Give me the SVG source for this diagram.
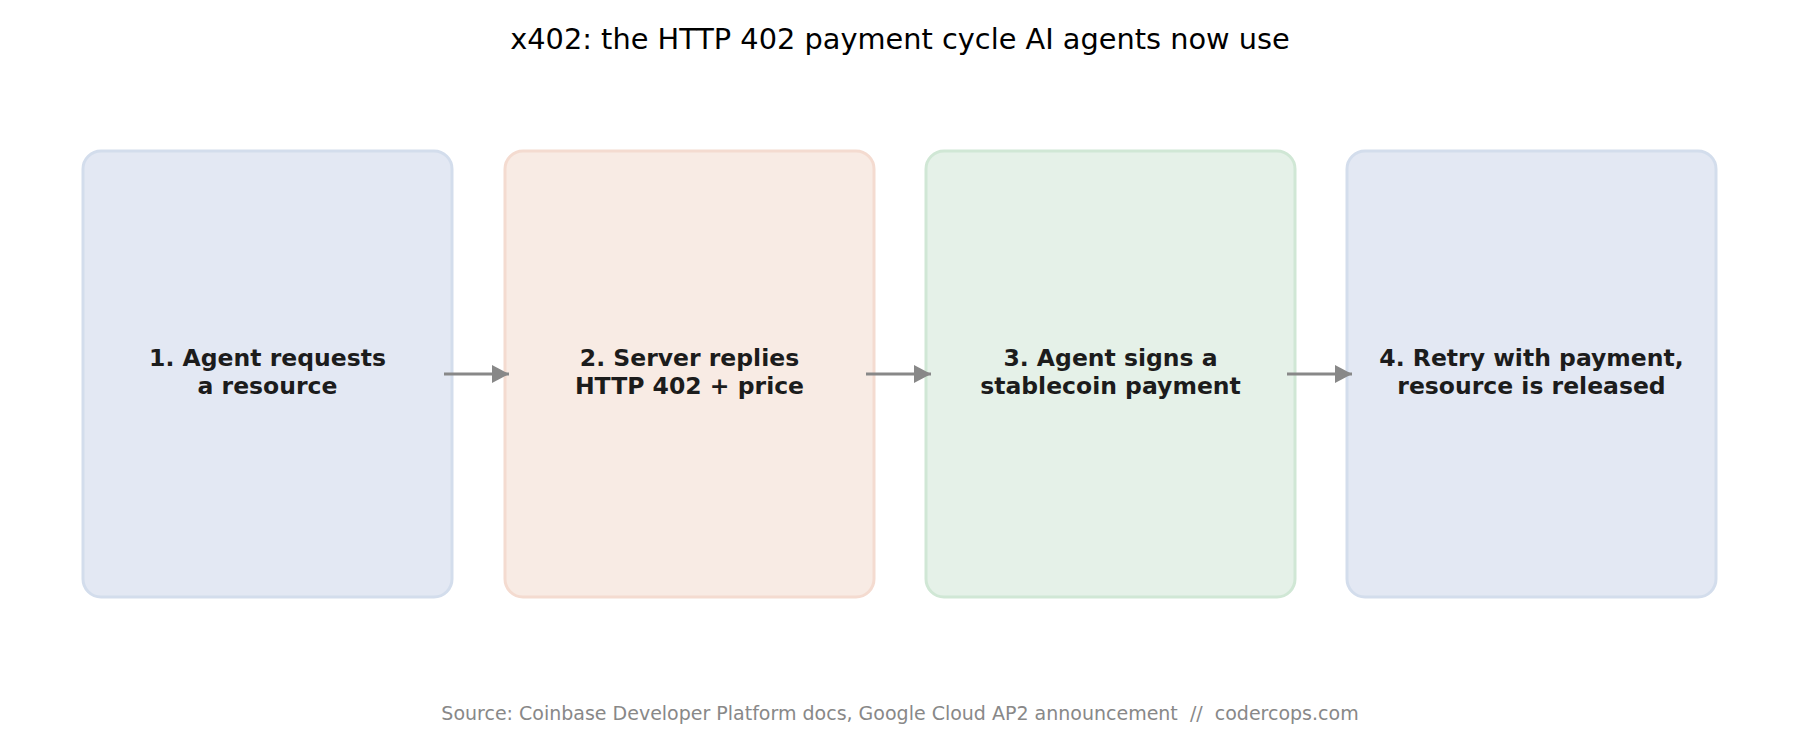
<svg xmlns="http://www.w3.org/2000/svg" width="1800" height="750" viewBox="0 0 1800 750">
<style>
.box{stroke-width:3}
.b1{fill:#e3e8f3;stroke:#d3ddec}
.b2{fill:#f8ebe4;stroke:#f4dbd0}
.b3{fill:#e5f1e8;stroke:#d0e7d5}
.lbl{font-family:"DejaVu Sans",sans-serif;font-weight:bold;font-size:23.5px;fill:#1c1c1c;text-anchor:middle}
.title{font-family:"DejaVu Sans",sans-serif;font-size:28.8px;fill:#000;text-anchor:middle}
.foot{font-family:"DejaVu Sans",sans-serif;font-size:19px;fill:#888;text-anchor:middle}
.conn{stroke:#888;stroke-width:3;fill:none}
</style>
<defs>
<marker id="ah" viewBox="0 0 17 18" refX="17" refY="9" markerWidth="17" markerHeight="18" markerUnits="userSpaceOnUse" orient="auto">
<path d="M0,0 L17,9 L0,18 Z" fill="#888"/>
</marker>
</defs>
<rect width="1800" height="750" fill="#fff"/>
<text class="title" x="900" y="49">x402: the HTTP 402 payment cycle AI agents now use</text>
<g id="node1">
<rect class="box b1" x="83" y="151" width="369" height="446" rx="18"/>
<text class="lbl" x="267.5" y="366">1. Agent requests</text>
<text class="lbl" x="267.5" y="394">a resource</text>
</g>
<g id="node2">
<rect class="box b2" x="505" y="151" width="369" height="446" rx="18"/>
<text class="lbl" x="689.5" y="366">2. Server replies</text>
<text class="lbl" x="689.5" y="394">HTTP 402 + price</text>
</g>
<g id="node3">
<rect class="box b3" x="926" y="151" width="369" height="446" rx="18"/>
<text class="lbl" x="1110.5" y="366">3. Agent signs a</text>
<text class="lbl" x="1110.5" y="394">stablecoin payment</text>
</g>
<g id="node4">
<rect class="box b1" x="1347" y="151" width="369" height="446" rx="18"/>
<text class="lbl" x="1531.5" y="366">4. Retry with payment,</text>
<text class="lbl" x="1531.5" y="394">resource is released</text>
</g>
<g id="connectors">
<line class="conn" x1="444" y1="374" x2="509" y2="374" marker-end="url(#ah)"/>
<line class="conn" x1="866" y1="374" x2="931" y2="374" marker-end="url(#ah)"/>
<line class="conn" x1="1287" y1="374" x2="1352" y2="374" marker-end="url(#ah)"/>
</g>
<text class="foot" x="900" y="720" xml:space="preserve">Source: Coinbase Developer Platform docs, Google Cloud AP2 announcement  //  codercops.com</text>
</svg>
